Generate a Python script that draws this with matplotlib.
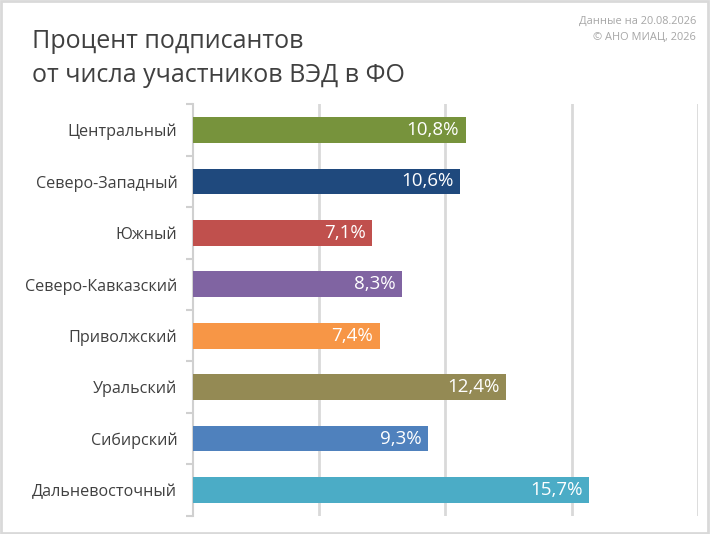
import matplotlib.pyplot as plt
from matplotlib.patches import Rectangle

# данные
okruga = ['Центральный', 'Северо-Западный', 'Южный', 'Северо-Кавказский',
          'Приволжский', 'Уральский', 'Сибирский', 'Дальневосточный']
procent = [10.8, 10.6, 7.1, 8.3, 7.4, 12.4, 9.3, 15.7]
cveta = ['#77933C', '#1F497D', '#C0504D', '#8064A2',
         '#F79646', '#948A54', '#4F81BD', '#4BACC6']

plt.rcParams['font.family'] = ['Open Sans', 'DejaVu Sans']

fig = plt.figure(figsize=(7.1, 5.34), dpi=100)
ax = fig.add_axes([0.2713, 0.0343, 0.7118, 0.7704])

y = list(range(len(okruga)))
ax.barh(y, procent, height=0.5, color=cveta, zorder=3)
ax.set_ylim(len(okruga) - 0.5, -0.5)
ax.set_xlim(0, 20)

for yi, v in zip(y, procent):
    ax.text(v - 0.25, yi, f'{v:.1f}%'.replace('.', ','), ha='right', va='center',
            color='white', fontsize=13.5, zorder=4)

ax.set_xticks([5, 10, 15, 20])
ax.set_xticklabels([])
ax.tick_params(axis='x', length=0)
ax.grid(axis='x', color='#d9d9d9', linewidth=2, zorder=0)

ax.set_yticks(y)
ax.set_yticklabels(okruga, fontsize=11.6, color='#404040')
ax.tick_params(axis='y', which='major', length=0, pad=11)
ax.set_yticks([i - 0.5 for i in range(len(okruga) + 1)], minor=True)
ax.tick_params(axis='y', which='minor', length=5, width=1.5, color='#d0d0d0')

for s in ['top', 'right', 'bottom']:
    ax.spines[s].set_visible(False)
ax.spines['left'].set_color('#d0d0d0')
ax.spines['left'].set_linewidth(1.5)

fig.text(32 / 710, 1 - 42 / 534, 'Процент подписантов', fontsize=18,
         color='#404040', va='center', ha='left')
fig.text(32 / 710, 1 - 75 / 534, 'от числа участников ВЭД в ФО', fontsize=18,
         color='#404040', va='center', ha='left')
fig.text(696 / 710, 1 - 21 / 534, 'Данные на 20.08.2026', fontsize=7.9,
         color='#a6a6a6', va='center', ha='right')
fig.text(696 / 710, 1 - 37 / 534, '© АНО МИАЦ, 2026', fontsize=7.9,
         color='#a6a6a6', va='center', ha='right')

fig.patches.append(Rectangle((0.001, 0.002), 0.996, 0.996, transform=fig.transFigure,
                             fill=False, edgecolor='#d9d9d9', linewidth=2))

fig.savefig('out.png', dpi=100)
